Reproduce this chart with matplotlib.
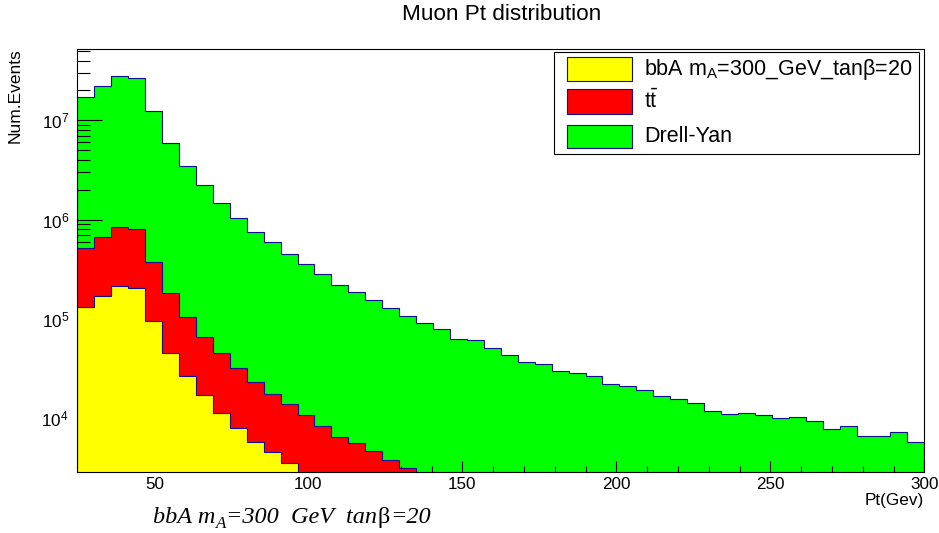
import numpy as np
import matplotlib
matplotlib.use("Agg")
import matplotlib.pyplot as plt
from matplotlib.patches import Rectangle
from matplotlib.ticker import FixedLocator, FixedFormatter, LogLocator, NullFormatter

plt.rcParams['font.family'] = ['Liberation Sans', 'DejaVu Sans']
plt.rcParams['mathtext.fontset'] = 'custom'
plt.rcParams['mathtext.rm'] = 'Liberation Sans'
plt.rcParams['mathtext.it'] = 'Liberation Sans:italic'
plt.rcParams['mathtext.bf'] = 'Liberation Sans:bold'

# ---------------- data ----------------
pt_min, pt_max, n_bins = 25.0, 300.0, 50

bba_counts = [1.32e5, 1.69e5, 2.15e5, 2.03e5, 9.48e4, 4.48e4, 2.64e4, 1.69e4, 1.13e4, 7.96e3,
              5.75e3, 4.53e3, 3.48e3, 2.8e3, 0, 0, 0, 0, 0, 0,
              0, 0, 0, 0, 0, 0, 0, 0, 0, 0,
              0, 0, 0, 0, 0, 0, 0, 0, 0, 0,
              0, 0, 0, 0, 0, 0, 0, 0, 0, 0]

ttbar_counts = [3.88e5, 5.02e5, 6.19e5, 5.93e5, 2.74e5, 1.35e5, 7.66e4, 4.89e4, 3.35e4, 2.41e4,
                1.715e4, 1.287e4, 1.022e4, 7.8e3, 8.38e3, 6.46e3, 5.54e3, 4.67e3, 3.79e3, 3.10e3,
                0, 0, 0, 0, 0, 0, 0, 0, 0, 0,
                0, 0, 0, 0, 0, 0, 0, 0, 0, 0,
                0, 0, 0, 0, 0, 0, 0, 0, 0, 0]

dy_counts = [1.678e7, 2.151e7, 2.735e7, 2.571e7, 1.204e7, 5.76e6, 3.357e6, 2.144e6, 1.431e6, 1.010e6,
             7.30e5, 5.76e5, 4.38e5, 3.45e5, 2.72e5, 2.13e5, 1.80e5, 1.51e5, 1.236e5, 1.034e5,
             9.12e4, 7.82e4, 6.28e4, 6.05e4, 5.07e4, 4.28e4, 3.66e4, 3.47e4, 2.97e4, 2.86e4,
             2.64e4, 2.21e4, 2.11e4, 1.93e4, 1.66e4, 1.54e4, 1.42e4, 1.174e4, 1.095e4, 1.128e4,
             1.077e4, 9.9e3, 1.021e4, 9.3e3, 7.68e3, 8.23e3, 6.57e3, 6.62e3, 7.26e3, 5.71e3]

legend_labels = ["bbA m$_\\mathrm{A}$=300_GeV_tanβ=20", "t$\\bar{\\mathrm{t}}$", "Drell-Yan"]
fill_colors = ["#ffff00", "#ff0000", "#00ff00"]
outline_color = "#101090"

x_major_ticks = [50, 100, 150, 200, 250, 300]
x_tick_labels = ["50", "100", "150", "200", "250", "300"]
y_major_ticks = [1e4, 1e5, 1e6, 1e7]
y_tick_labels = ["$10^{4}$", "$10^{5}$", "$10^{6}$", "$10^{7}$"]

title = "Muon Pt distribution"
xlabel = "Pt(Gev)"
ylabel = "Num.Events"
# footnote pieces: text, style, relative size, baseline drop (px)
footnote_parts = [("bbA m", 'italic', 1.0, 0.0),
                  ("A", 'italic', 0.7, 4.5),
                  ("=300  GeV  tan", 'italic', 1.0, 0.0),
                  ("β", 'normal', 1.0, 0.0),
                  ("=20", 'italic', 1.0, 0.0)]

# ---------------- figure ----------------
W, H = 939, 533
fig = plt.figure(figsize=(W / 100, H / 100), dpi=100)
ax_l, ax_r, ax_t, ax_b = 77.3, 924.3, 49.0, 471.7
ax = fig.add_axes([ax_l / W, 1 - ax_b / H, (ax_r - ax_l) / W, (ax_b - ax_t) / H])

edges = np.linspace(pt_min, pt_max, n_bins + 1)
bba = np.array(bba_counts)
tt = np.array(ttbar_counts)
dy = np.array(dy_counts)
lvl_bba = bba
lvl_tt = bba + tt
lvl_all = bba + tt + dy

ymin, ymax = 2871.0, 5.234e7
base = 1.0
ax.set_yscale('log')
ax.set_xlim(pt_min, pt_max)
ax.set_ylim(ymin, ymax)

lw = 0.8
ax.stairs(np.maximum(lvl_all, base), edges, baseline=base, fill=True,
          facecolor=fill_colors[2], edgecolor=outline_color, linewidth=lw, zorder=1)
ax.stairs(np.maximum(lvl_tt, base), edges, baseline=base, fill=True,
          facecolor=fill_colors[1], edgecolor=outline_color, linewidth=lw, zorder=2)
ax.stairs(np.maximum(lvl_bba, base), edges, baseline=base, fill=True,
          facecolor=fill_colors[0], edgecolor=outline_color, linewidth=lw, zorder=2.1)

# axes / ticks (ticks under red & yellow, above green)
ax.xaxis.set_zorder(1.5)
ax.yaxis.set_zorder(1.5)
for s in ax.spines.values():
    s.set_linewidth(0.8)
    s.set_color('black')
    s.set_zorder(3)

ax.xaxis.set_major_locator(FixedLocator(x_major_ticks))
ax.xaxis.set_major_formatter(FixedFormatter(x_tick_labels))
ax.xaxis.set_minor_locator(FixedLocator(np.arange(30, 300, 10)))
ax.yaxis.set_major_locator(FixedLocator(y_major_ticks))
ax.yaxis.set_major_formatter(FixedFormatter(y_tick_labels))
ax.yaxis.set_minor_locator(LogLocator(base=10, subs=np.arange(2, 10)))
ax.yaxis.set_minor_formatter(NullFormatter())

ax.tick_params(axis='x', which='major', direction='in', length=8, width=0.8,
               labelsize=12.3, pad=4)
ax.tick_params(axis='x', which='minor', direction='in', length=4, width=0.8)
ax.tick_params(axis='y', which='major', direction='in', length=18, width=0.8,
               labelsize=12.3, pad=6)
ax.tick_params(axis='y', which='minor', direction='in', length=9.4, width=0.8)

# titles and labels
fig.text(501.7 / W, 1 - 20.5 / H, title, ha='center', va='baseline', fontsize=16.2)
fig.text(15.5 / W, 1 - 48 / H, ylabel, rotation=90, ha='center', va='top', fontsize=12.5)
fig.text(924 / W, 1 - 493 / H, xlabel, ha='right', va='top', fontsize=12.3)

# legend
leg_l, leg_r, leg_t, leg_b = 554, 919, 51.7, 154
fig.add_artist(Rectangle((leg_l / W, 1 - leg_b / H), (leg_r - leg_l) / W, (leg_b - leg_t) / H,
                         transform=fig.transFigure, facecolor='white', edgecolor='black',
                         linewidth=0.8, zorder=5))
rows = [(57.3, 80.7), (89.3, 114.0), (125.0, 148.0)]
for (top, bot), lab, col in zip(rows, legend_labels, fill_colors):
    fig.add_artist(Rectangle((566.7 / W, 1 - bot / H), (631.7 - 566.7) / W, (bot - top) / H,
                             transform=fig.transFigure, facecolor=col, edgecolor=outline_color,
                             linewidth=0.8, zorder=6))
    fig.text(644 / W, 1 - (top + bot) / 2 / H, lab, ha='left', va='center',
             fontsize=15.5, zorder=7)

# footnote: pieces flowed one after the other
renderer = fig.canvas.get_renderer()
foot_base = 523.3
foot_size = 17.5
xcur = 152.7
for txt, sty, rel, drop in footnote_parts:
    t = fig.text(xcur / W, 1 - (foot_base + drop) / H, txt, ha='left', va='baseline',
                 family='Liberation Serif', style=sty, fontsize=foot_size * rel)
    bb = t.get_window_extent(renderer=renderer)
    xcur += bb.width + 0.5

fig.savefig('out.png', dpi=100)
